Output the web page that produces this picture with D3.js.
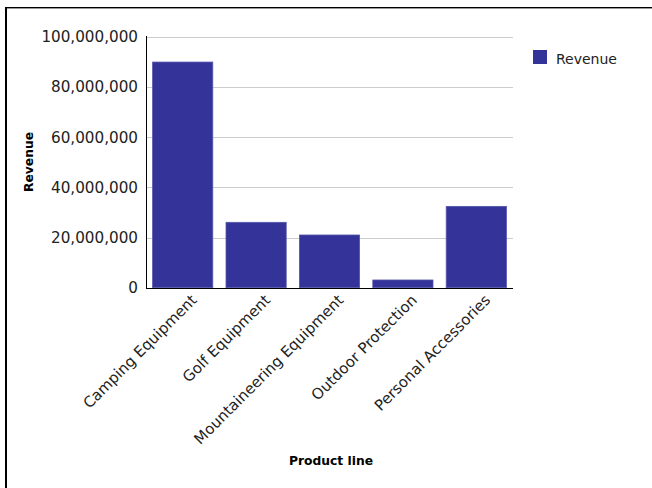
<!DOCTYPE html>
<html>
<head>
<meta charset="utf-8">
<script src="https://cdn.jsdelivr.net/npm/d3@7"></script>
<style>
  html, body { margin: 0; padding: 0; background: #fff; }
  svg { display: block; font-family: "DejaVu Sans", Verdana, sans-serif; }
</style>
</head>
<body>
<svg id="chart" width="652" height="488"></svg>
<script>
const categories = ["Camping Equipment", "Golf Equipment", "Mountaineering Equipment", "Outdoor Protection", "Personal Accessories"];
const revenue = [89900000, 26050000, 21000000, 3070000, 32400000];
const yTicks = [0, 20000000, 40000000, 60000000, 80000000, 100000000];
const seriesName = "Revenue";
const xTitle = "Product line";
const yTitle = "Revenue";

const svg = d3.select("#chart");

// frame
svg.append("line").attr("x1", 6).attr("x2", 652).attr("y1", 7.5).attr("y2", 7.5).attr("stroke", "#000").attr("stroke-width", 1);
svg.append("line").attr("x1", 7).attr("x2", 652).attr("y1", 8.5).attr("y2", 8.5).attr("stroke", "#999").attr("stroke-width", 1);
svg.append("line").attr("x1", 6).attr("x2", 6).attr("y1", 7).attr("y2", 488).attr("stroke", "#000").attr("stroke-width", 2);

const x = d3.scaleBand().domain(categories).range([146, 513]).paddingInner(0.18).paddingOuter(0.09);
const y = d3.scaleLinear().domain([0, 100000000]).range([287.7, 36.7]);

// gridlines
svg.append("g")
  .selectAll("line")
  .data(yTicks.filter(d => d > 0))
  .join("line")
  .attr("x1", 146).attr("x2", 513)
  .attr("y1", d => Math.round(y(d)) + 0.5).attr("y2", d => Math.round(y(d)) + 0.5)
  .attr("stroke", "#cccccc").attr("stroke-width", 1);

// y axis labels
const fmt = d3.format(",");
svg.append("g")
  .selectAll("text")
  .data(yTicks)
  .join("text")
  .attr("x", 138)
  .attr("y", d => y(d))
  .attr("dy", "0.36em")
  .attr("text-anchor", "end")
  .attr("font-size", 15.2)
  .attr("fill", "#222")
  .text(d => fmt(d));

// bars
svg.append("g")
  .selectAll("rect")
  .data(categories.map((c, i) => ({ c, v: revenue[i] })))
  .join("rect")
  .attr("x", d => x(d.c))
  .attr("y", d => y(d.v))
  .attr("width", x.bandwidth())
  .attr("height", d => y(0) - y(d.v))
  .attr("fill", "#333399")
  .attr("stroke", "#5555aa")
  .attr("stroke-width", 0.8);

// axis lines
svg.append("line").attr("x1", 146.5).attr("x2", 146.5).attr("y1", 36).attr("y2", 288.5).attr("stroke", "#000").attr("stroke-width", 1);
svg.append("line").attr("x1", 146).attr("x2", 513).attr("y1", 288.5).attr("y2", 288.5).attr("stroke", "#000").attr("stroke-width", 1);

// category labels
svg.append("g")
  .selectAll("text")
  .data(categories)
  .join("text")
  .attr("transform", d => `translate(${x(d) + x.bandwidth() / 2 + 15},${301}) rotate(-45)`)
  .attr("text-anchor", "end")
  .attr("font-size", 15)
  .attr("fill", "#222")
  .text(d => d);

// axis titles
svg.append("text")
  .attr("x", 331).attr("y", 465)
  .attr("text-anchor", "middle")
  .attr("font-size", 12.3)
  .attr("font-weight", "bold")
  .attr("fill", "#000")
  .text(xTitle);

svg.append("text")
  .attr("transform", `translate(32.5,162) rotate(-90)`)
  .attr("text-anchor", "middle")
  .attr("font-size", 12.3)
  .attr("font-weight", "bold")
  .attr("fill", "#000")
  .text(yTitle);

// legend
const lg = svg.append("g");
lg.append("rect").attr("x", 533).attr("y", 50).attr("width", 14).attr("height", 14).attr("fill", "#333399");
lg.append("text").attr("x", 556).attr("y", 64).attr("font-size", 14).attr("fill", "#222").text(seriesName);
</script>
</body>
</html>
